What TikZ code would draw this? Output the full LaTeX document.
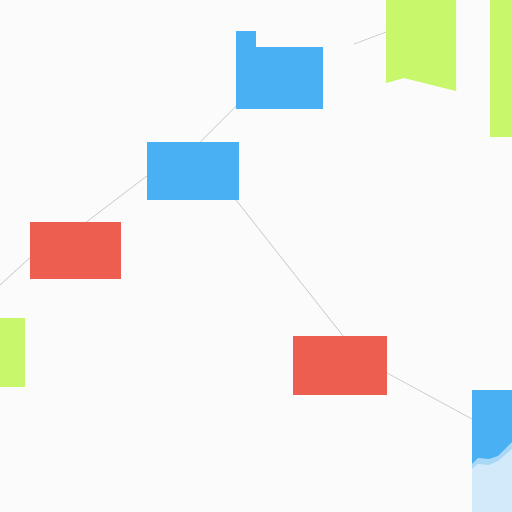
\documentclass[tikz,border=0pt]{standalone}
\begin{document}
\begin{tikzpicture}[x=1pt,y=-1pt,
  box/.style={rectangle,inner sep=0pt,outer sep=0pt,draw=none},
  bluebox/.style={box,fill=boxblue},
  redbox/.style={box,fill=boxred},
  link/.style={draw=linkgray,line width=0.6pt}]
\definecolor{boxblue}{HTML}{49B1F3}
\definecolor{boxred}{HTML}{EE5E50}
\definecolor{boxgreen}{HTML}{C9F76B}
\definecolor{linkgray}{HTML}{C6C6C6}
\definecolor{paleblue}{HTML}{D2EAF9}
\definecolor{midblue}{HTML}{A9D8F7}
\definecolor{bg}{HTML}{FBFBFB}
\fill[bg] (0,0) rectangle (512,512);
\useasboundingbox (0,0) rectangle (512,512);
% green shapes
\fill[boxgreen] (386,0) -- (456,0) -- (456,91) -- (404,78) -- (386,83) -- cycle;
\coordinate (bannerL) at (386,32);
\fill[boxgreen] (490,0) rectangle (512,137);
\fill[boxgreen] (0,318) rectangle (25,387);
% folder
\node[bluebox,minimum width=87pt,minimum height=62pt] (folder) at (279.5,78) {};
\fill[boxblue] (236,31) rectangle (256,48);
% boxes
\node[bluebox,minimum width=92pt,minimum height=58pt] (b1) at (193,171) {};
\node[redbox,minimum width=91pt,minimum height=57pt] (r1) at (75.5,250.5) {};
\node[redbox,minimum width=94pt,minimum height=59pt] (r2) at (340,365.5) {};
\node[bluebox,minimum width=40pt,minimum height=122pt] (b3) at (492,451) {};
\fill[midblue] (472,464) -- (478,458) -- (489,459) -- (498,456) -- (512,442) -- (512,512) -- (472,512) -- cycle;
\fill[paleblue] (472,469) -- (478,464) -- (489,465) -- (498,461) -- (512,449) -- (512,512) -- (472,512) -- cycle;
% free ends
\coordinate (leftEnd) at (0,285);
\coordinate (topEnd) at (354,44);
% connectors
\draw[link] (leftEnd) -- (r1.189.4);
\draw[link] (r1.69.8) -- (b1.186);
\draw[link] (b1.76) -- (folder.213);
\draw[link] (b1.326.6) -- (r2.84);
\draw[link] (r2.351) -- (b3.122);
\draw[link] (topEnd) -- (bannerL);
\end{tikzpicture}
\end{document}
